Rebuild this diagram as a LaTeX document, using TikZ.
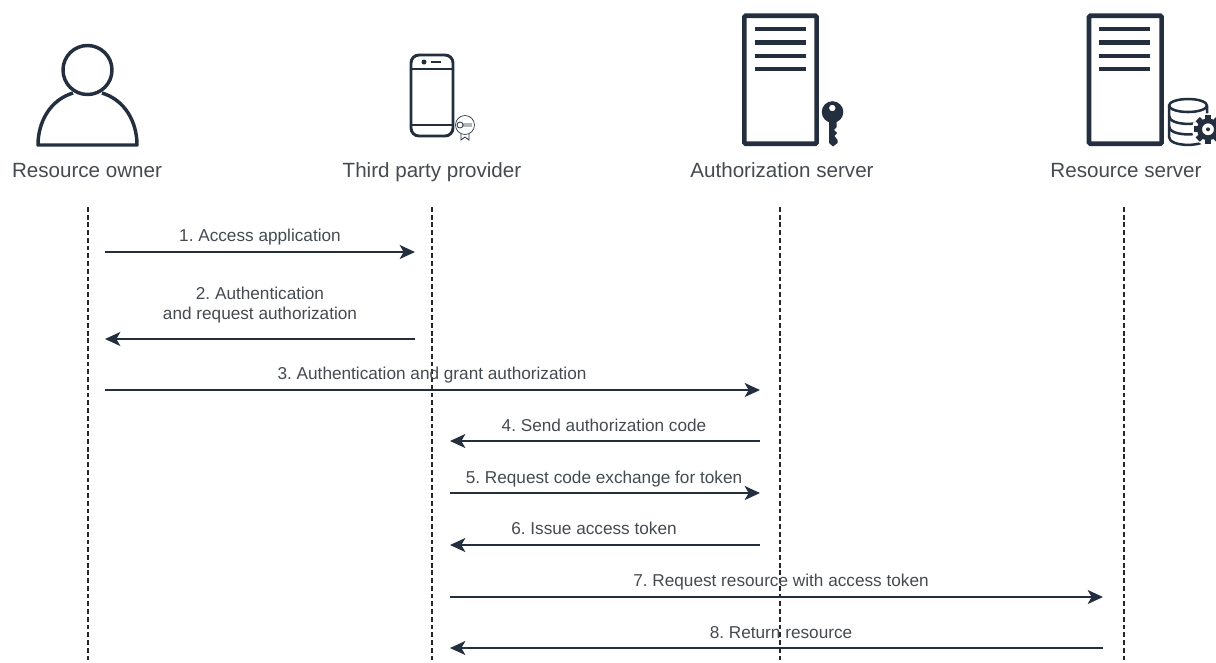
\documentclass[tikz,border=0pt]{standalone}
\usepackage{fontspec}
\setmainfont{Liberation Sans}
\usetikzlibrary{arrows.meta}
\definecolor{ink}{HTML}{232F3E}
\definecolor{caption}{HTML}{444A50}
\frenchspacing

\begin{document}
\begin{tikzpicture}[x=0.75pt,y=-0.75pt,
  msg/.style={draw=ink,line width=1.3pt,-{Stealth[length=11.5pt,width=10.5pt,inset=3pt]}},
  life/.style={draw=black!85,line width=1.1pt,dash pattern=on 3.6pt off 2.2pt},
  actor/.style={anchor=base,text=caption,font=\fontsize{15.45}{18}\selectfont},
  msglabel/.style={anchor=base,text=caption,font=\fontsize{12.9}{14.4}\selectfont,align=center},
  bar/.style={draw=ink,line width=3.4pt},
  icon/.style={draw=ink,line width=2.6pt,line join=round}]
  \useasboundingbox (0,0) rectangle (1216,662);
  % actors
  \node[actor] (owner) at (87,177) {Resource owner};
  \node[actor] (provider) at (432,177) {Third party provider};
  \node[actor] (authserver) at (782,177) {Authorization server};
  \node[actor] (resserver) at (1126,177) {Resource server};
  % person
  \draw[icon] (87.5,70) circle (24.5);
  \draw[icon] (73,93) .. controls (50,100) and (38,122) .. (38,145) -- (137,145) .. controls (137,122) and (125,100) .. (102,93);
  % phone
  \draw[icon,line width=2.2pt,rounded corners=6] (411,55) rectangle (453,136);
  \draw[icon,line width=2pt] (411,69) -- (453,69) (411,125) -- (453,125);
  \fill[ink] (424,62) circle (2.5);
  \draw[ink,line width=1.6pt] (431,62) -- (441,62);
  \draw[ink,line width=.5pt] (465,125) circle (9.5);
  \draw[ink,line width=.6pt] (460,125) circle (3) (463,124) -- (472,124) (463,126) -- (472,126);
  \draw[ink,line width=.6pt] (461,134) -- (461,140) -- (465,137) -- (469,140) -- (469,134);
  % authorization server
  \draw[draw=ink,line width=3.5pt,rounded corners=1] (744.4,15.7) rectangle (816.6,143.7);
  \foreach \y in {29,42.7,56,69}
    \draw[bar] (755,\y) -- (806,\y);
  % key
  \fill[ink,even odd rule] (832.5,112) circle (10.8) (832.3,108) circle (3.3);
  \fill[ink] (829,118) -- (836.7,118) -- (836.7,127) -- (834,130) -- (837,133) -- (834.5,136) -- (837.5,140) -- (837.5,143) -- (833,146.5) -- (829,143) -- cycle;
  % resource server
  \draw[draw=ink,line width=3.5pt,rounded corners=1] (1089,15.7) rectangle (1161.6,143.7);
  \foreach \y in {29,42.7,56,69}
    \draw[bar] (1099.3,\y) -- (1150,\y);
  % database
  \draw[icon,line width=1.9pt] (1188,105.5) ellipse (19 and 6.5);
  \draw[icon,line width=1.9pt] (1169,105.5) -- (1169,137) .. controls (1169,147.5) and (1207,147.5) .. (1207,137) -- (1207,105.5);
  \draw[icon,line width=1.9pt] (1169,116) .. controls (1169,126.5) and (1207,126.5) .. (1207,116);
  \draw[icon,line width=1.9pt] (1169,126.5) .. controls (1169,137) and (1207,137) .. (1207,126.5);
  % gear
  \fill[white] (1208,129.3) circle (16);
  \foreach \a in {0,45,...,315}
    \fill[ink,rotate around={\a:(1208,129.3)}] (1205,114.8) rectangle (1211,120);
  \fill[ink,even odd rule] (1208,129.3) circle (11) (1208,129.3) circle (6);
  \fill[ink] (1208,129.3) circle (2);
  % lifelines
  \coordinate (ownertop) at (88,207);
  \coordinate (ownerend) at (88,662);
  \coordinate (providertop) at (432,207);
  \coordinate (providerend) at (432,662);
  \coordinate (authtop) at (780,207);
  \coordinate (authend) at (780,662);
  \coordinate (restop) at (1124,207);
  \coordinate (resend) at (1124,662);
  \draw[life] (ownertop) -- (ownerend);
  \draw[life] (providertop) -- (providerend);
  \draw[life] (authtop) -- (authend);
  \draw[life] (restop) -- (resend);
  % messages
  \coordinate (a1) at (105,252);
  \coordinate (b1) at (415,252);
  \coordinate (a2) at (415,339);
  \coordinate (b2) at (105,339);
  \coordinate (a3) at (105,390);
  \coordinate (b3) at (760,390);
  \coordinate (a4) at (760,441);
  \coordinate (b4) at (450,441);
  \coordinate (a5) at (450,493);
  \coordinate (b5) at (760,493);
  \coordinate (a6) at (760,545);
  \coordinate (b6) at (450,545);
  \coordinate (a7) at (450,597);
  \coordinate (b7) at (1103,597);
  \coordinate (a8) at (1103,648);
  \coordinate (b8) at (450,648);
  \draw[msg] (a1) -- (b1);
  \draw[msg] (a2) -- (b2);
  \draw[msg] (a3) -- (b3);
  \draw[msg] (a4) -- (b4);
  \draw[msg] (a5) -- (b5);
  \draw[msg] (a6) -- (b6);
  \draw[msg] (a7) -- (b7);
  \draw[msg] (a8) -- (b8);
  \node[msglabel] (l1) at (260,241.7) {1. Access application};
  \node[msglabel,anchor=center] (l2) at (260,305) {2. Authentication\\and request authorization};
  \node[msglabel] (l3) at (432,379) {3. Authentication and grant authorization};
  \node[msglabel] (l4) at (604,431.5) {4. Send authorization code};
  \node[msglabel] (l5) at (604,483) {5. Request code exchange for token};
  \node[msglabel] (l6) at (594,534.5) {6. Issue access token};
  \node[msglabel] (l7) at (781,586.5) {7. Request resource with access token};
  \node[msglabel] (l8) at (781,638) {8. Return resource};
\end{tikzpicture}
\end{document}
